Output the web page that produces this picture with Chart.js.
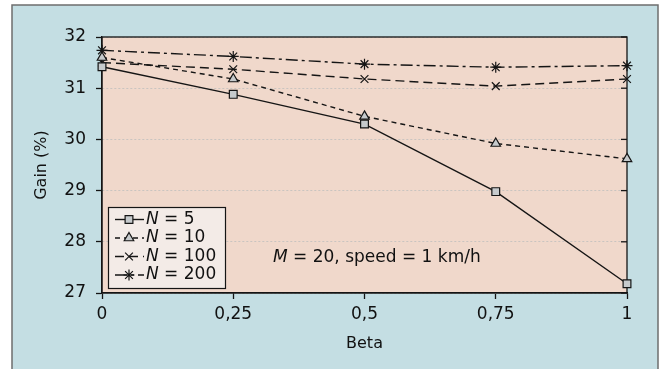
<!DOCTYPE html>
<html><head><meta charset="utf-8">
<script src="https://cdn.jsdelivr.net/npm/chart.js@4/dist/chart.umd.min.js"></script>
<style>html,body{margin:0;padding:0;background:#fff}#wrap{position:relative;width:664px;height:369px}</style>
</head><body><div id="wrap"><canvas id="c" width="664" height="369"></canvas></div>
<script>
// ---- data ----
const betaValues = [0, 0.25, 0.5, 0.75, 1];
const xTickLabels = ['0', '0,25', '0,5', '0,75', '1'];
const yTickValues = [27, 28, 29, 30, 31, 32];
const seriesN = [5, 10, 100, 200];
const gainN5   = [31.42, 30.88, 30.30, 28.98, 27.18];
const gainN10  = [31.60, 31.18, 30.45, 29.92, 29.62];
const gainN100 = [31.50, 31.37, 31.18, 31.04, 31.18];
const gainN200 = [31.74, 31.62, 31.47, 31.41, 31.44];
const annotationText = ['M', ' = 20, speed = 1 km/h'];
const xTitle = 'Beta';
const yTitle = 'Gain (%)';

// ---- styles ----
const FONT = 'DejaVu Sans';
const INK = '#151515';
const MARK_FILL = '#c6cacc';
const BLUE = '#c4dee3';
const PEACH = '#f0d8cb';
const styles = [
  { pointStyle: 'rect', dash: [] },
  { pointStyle: 'triangle', dash: [5, 4] },
  { pointStyle: 'crossRot', dash: [9, 5] },
  { pointStyle: 'star', dash: [12, 4, 3, 4] }
];
const seriesValues = [gainN5, gainN10, gainN100, gainN200];

const datasets = seriesValues.map((vals, i) => ({
  label: 'N = ' + seriesN[i],
  data: betaValues.map((b, j) => ({ x: b, y: vals[j] })),
  borderColor: INK,
  borderWidth: 1.4,
  borderDash: styles[i].dash,
  pointStyle: styles[i].pointStyle,
  pointRadius: 5.5,
  pointBackgroundColor: MARK_FILL,
  pointBorderColor: INK,
  pointBorderWidth: 1.2,
  tension: 0,
  fill: false,
  clip: false
}));

const framePlugin = {
  id: 'frame',
  beforeDraw(chart) {
    const { ctx, chartArea: a, width, height } = chart;
    ctx.save();
    ctx.fillStyle = '#fff';
    ctx.fillRect(0, 0, width, height);
    ctx.fillStyle = BLUE;
    ctx.fillRect(12, 5, 646, height);
    ctx.strokeStyle = '#6e6e6e';
    ctx.lineWidth = 1.5;
    ctx.strokeRect(12, 5, 646, height + 10);
    ctx.fillStyle = PEACH;
    ctx.fillRect(a.left, a.top, a.right - a.left, a.bottom - a.top);
    ctx.restore();
  },
  beforeDatasetsDraw(chart) {
    const { ctx, chartArea: a } = chart;
    const ys = chart.scales.y;
    ctx.save();
    ctx.strokeStyle = INK;
    ctx.lineWidth = 1.3;
    ctx.setLineDash([]);
    ctx.strokeRect(a.left, a.top, a.right - a.left, a.bottom - a.top);
    ys.ticks.forEach(t => {
      const y = ys.getPixelForValue(t.value);
      ctx.beginPath();
      ctx.moveTo(a.right - 6, y);
      ctx.lineTo(a.right, y);
      ctx.stroke();
    });
    ctx.restore();
  },
  afterDraw(chart) {
    const { ctx } = chart;
    ctx.save();
    // legend
    const bx = 108, by = 207, bw = 117, bh = 81;
    ctx.fillStyle = '#f3ebe7';
    ctx.fillRect(bx, by, bw, bh);
    ctx.strokeStyle = INK;
    ctx.lineWidth = 1.2;
    ctx.strokeRect(bx + 0.5, by + 0.5, bw, bh);
    chart.data.datasets.forEach((ds, i) => {
      const cy = 219.5 + i * 18.5;
      ctx.strokeStyle = INK;
      ctx.lineWidth = 1.4;
      ctx.setLineDash(ds.borderDash);
      ctx.beginPath();
      ctx.moveTo(115, cy);
      ctx.lineTo(144, cy);
      ctx.stroke();
      ctx.setLineDash([]);
      ctx.fillStyle = MARK_FILL;
      ctx.strokeStyle = INK;
      ctx.lineWidth = 1.2;
      Chart.helpers.drawPoint(ctx, { pointStyle: ds.pointStyle, radius: 5.5, rotation: 0, borderWidth: 1.2 }, 129, cy);
      ctx.fillStyle = '#111';
      ctx.textBaseline = 'middle';
      ctx.textAlign = 'left';
      ctx.font = 'italic 17px "' + FONT + '"';
      ctx.fillText('N', 146, cy);
      const w = ctx.measureText('N').width;
      ctx.font = '17px "' + FONT + '"';
      ctx.fillText(' = ' + seriesN[i], 146 + w, cy);
    });
    // annotation
    ctx.fillStyle = '#111';
    ctx.textBaseline = 'middle';
    ctx.font = 'italic 17px "' + FONT + '"';
    ctx.fillText(annotationText[0], 273, 258);
    const w2 = ctx.measureText(annotationText[0]).width;
    ctx.font = '17px "' + FONT + '"';
    ctx.fillText(annotationText[1], 273 + w2, 258);
    ctx.restore();
  }
};

new Chart(document.getElementById('c'), {
  type: 'line',
  data: { datasets },
  options: {
    responsive: false,
    animation: false,
    devicePixelRatio: 1,
    layout: { padding: { left: 0, top: 37, right: 37, bottom: 0 } },
    plugins: { legend: { display: false }, tooltip: { enabled: false }, title: { display: false } },
    scales: {
      x: {
        type: 'linear', min: 0, max: 1,
        afterBuildTicks(s) { s.ticks = betaValues.map(v => ({ value: v })); },
        afterFit(s) { s.height = 76; },
        ticks: {
          color: '#111', font: { family: FONT, size: 17 }, padding: 5, maxRotation: 0,
          callback: (v, i) => xTickLabels[i]
        },
        grid: { drawOnChartArea: false, drawTicks: true, tickLength: 6, tickColor: INK, tickWidth: 1.3 },
        border: { color: INK, width: 1.3 },
        title: { display: true, text: xTitle, color: '#111', font: { family: FONT, size: 16 }, padding: { top: 0, bottom: 16 } }
      },
      y: {
        type: 'linear', min: 27, max: 32,
        afterBuildTicks(s) { s.ticks = yTickValues.map(v => ({ value: v })); },
        afterFit(s) { s.width = 102; },
        ticks: { color: '#111', font: { family: FONT, size: 17 }, padding: 10 },
        grid: { color: '#c9c4c0', lineWidth: 1, tickLength: 6, tickColor: INK, tickWidth: 1.3 },
        border: { color: INK, width: 1.3, dash: [2, 2] },
        title: { display: true, text: yTitle, color: '#111', font: { family: FONT, size: 16 }, padding: { top: 32, bottom: 0 } }
      }
    }
  },
  plugins: [framePlugin]
});
</script></body></html>
